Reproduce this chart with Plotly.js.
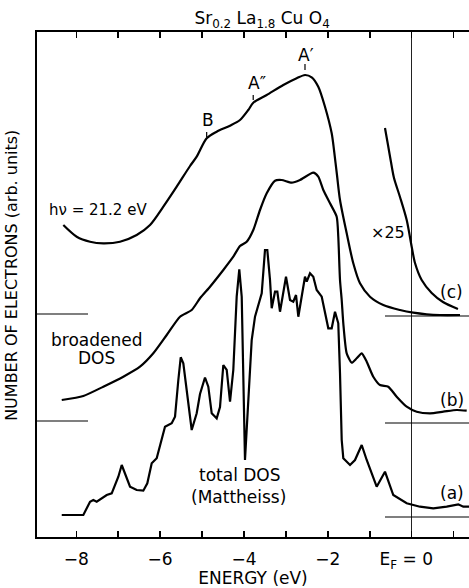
<!DOCTYPE html>
<html>
<head>
<meta charset="utf-8">
<script src="https://cdn.plot.ly/plotly-3.0.1.min.js"></script>
<style>html,body{margin:0;padding:0;background:#fff;}#chart{width:469px;height:588px;}</style>
</head>
<body>
<div id="chart"></div>
<script>
// ---- data (energy in eV, counts in arbitrary units above each curve's baseline) ----
const energyC = [-8.309,-7.990,-7.672,-7.355,-6.957,-6.559,-6.241,-5.924,-5.605,-5.287,-5.128,-4.889,-4.651,-4.333,-4.095,-3.897,-3.778,-3.458,-3.062,-2.743,-2.545,-2.385,-2.228,-2.068,-1.908,-1.853,-1.782,-1.710,-1.550,-1.393,-1.233,-0.995,-0.677,-0.279,0.038,0.358,0.675,1.152];
const countsC = [90,78.3,73.3,71.7,73.3,80,90,108.3,128.3,149,158.3,176.7,183.3,189.3,195,205,212.3,220,230,236.7,240,237.7,228.3,208.3,181.7,165,140,115,81.7,51.7,31.7,18.3,10,5,2.3,0.7,0,0];

const energyC25 = [-0.637,-0.565,-0.494,-0.422,-0.279,-0.119,0,0.079,0.238,0.477,0.746,1.104];
const countsC25 = [187,170,153,137,118,95,68.3,52,35,22,13,6];

const energyB = [-8.347,-7.832,-7.355,-6.878,-6.480,-6.163,-5.843,-5.526,-5.247,-5.049,-4.810,-4.493,-4.255,-4.095,-3.935,-3.778,-3.618,-3.458,-3.260,-3.100,-2.862,-2.664,-2.347,-2.228,-2.108,-1.948,-1.789,-1.751,-1.710,-1.669,-1.631,-1.550,-1.431,-1.312,-1.192,-1.073,-0.916,-0.756,-0.558,-0.358,-0.119,0.119,0.436,0.754,1.073,1.312];
const countsB = [22,26,35.3,45.3,55.3,68.7,87,105.3,112,123.7,135.3,152,165.3,176,180.3,192,212,228.7,241.3,242,239.3,242,249.3,245.3,232,218.7,205.3,185.3,142,122,98.7,68.7,59.3,63.7,68.7,60.3,45.3,37,35.3,25.3,15.3,10.3,8.7,10.3,12,11.3];

const energyA = [-8.347,-7.832,-7.672,-7.594,-7.513,-7.274,-7.155,-6.997,-6.916,-6.838,-6.718,-6.559,-6.401,-6.306,-6.201,-6.082,-6.003,-5.884,-5.724,-5.645,-5.566,-5.509,-5.447,-5.366,-5.247,-5.128,-5.049,-4.930,-4.851,-4.770,-4.651,-4.572,-4.493,-4.412,-4.333,-4.255,-4.174,-4.112,-4.054,-3.976,-3.897,-3.816,-3.737,-3.577,-3.499,-3.444,-3.379,-3.339,-3.260,-3.205,-3.141,-2.998,-2.902,-2.824,-2.759,-2.704,-2.545,-2.504,-2.425,-2.347,-2.266,-2.146,-1.989,-1.908,-1.829,-1.751,-1.710,-1.669,-1.631,-1.471,-1.352,-1.192,-1.073,-0.835,-0.637,-0.439,-0.119,0.198,0.515,0.835,1.111,1.231,1.367];
const countsA = [2,2,15.3,17,15.3,22,23.7,40.3,52,43.7,30.3,27,26.3,33.7,53.7,58.7,70.3,90.3,93.7,100.3,137,159.7,153.7,127,87,103.7,123,139.5,130.3,103.7,98.7,110,152,147,115.3,147,220.3,247.7,220.3,57,120.3,177,200.3,223.7,267,267,237,208.7,225.3,225.3,205.3,240.3,217,215.3,222,200.3,240.3,235.3,243.7,240.3,227,220.3,188.7,188.7,205.3,193.7,143.7,77,58.7,52,57,72,57,30.3,45.3,22,13.7,10.3,8.7,10.3,12.7,10.3,10.3];

const majorTicks = [-8,-6,-4,-2,0];
const majorLabels = ['\u22128','\u22126','\u22124','\u22122','E<sub>F</sub> = 0\u00a0\u00a0'];
const minorTicks = [-7,-5,-3,-1,1];

// vertical offsets of the three spectra (layout)
const OFF_C = 222, OFF_B = 115, OFF_A = 20;
const shift = (arr, off) => arr.map(v => v + off);

const lineStyle = {color:'#000', width:2.2};
const traces = [
  {x: energyC, y: shift(countsC, OFF_C), type:'scatter', mode:'lines', line:Object.assign({shape:'spline', smoothing:0.8}, lineStyle), name:'(c) hν = 21.2 eV', showlegend:false},
  {x: energyC25, y: shift(countsC25, OFF_C), type:'scatter', mode:'lines', line:Object.assign({shape:'spline', smoothing:0.8}, lineStyle), name:'(c) ×25', showlegend:false},
  {x: energyB, y: shift(countsB, OFF_B), type:'scatter', mode:'lines', line:Object.assign({shape:'spline', smoothing:0.6}, lineStyle), name:'(b) broadened DOS', showlegend:false},
  {x: energyA, y: shift(countsA, OFF_A), type:'scatter', mode:'lines', line:lineStyle, name:'(a) total DOS', showlegend:false}
];

const XL = -8.937, XR = 1.367;
const thin = {color:'#000', width:1.2};
const shapes = [
  // baselines
  {type:'line', xref:'x', yref:'y', x0:XL, x1:-7.72, y0:OFF_C+1, y1:OFF_C+1, line:thin},
  {type:'line', xref:'x', yref:'y', x0:XL, x1:-7.72, y0:OFF_B+1, y1:OFF_B+1, line:thin},
  {type:'line', xref:'x', yref:'y', x0:-0.637, x1:XR, y0:OFF_C-1, y1:OFF_C-1, line:thin},
  {type:'line', xref:'x', yref:'y', x0:-0.637, x1:XR, y0:OFF_B-1, y1:OFF_B-1, line:thin},
  {type:'line', xref:'x', yref:'y', x0:-0.637, x1:XR, y0:OFF_A, y1:OFF_A, line:thin},
  // feature markers
  {type:'line', xref:'x', yref:'y', x0:-4.89, x1:-4.89, y0:400, y1:405, line:thin},
  {type:'line', xref:'x', yref:'y', x0:-3.78, x1:-3.78, y0:437, y1:442, line:thin},
  {type:'line', xref:'x', yref:'y', x0:-2.545, x1:-2.545, y0:467, y1:473, line:thin}
];

const F = {family:'DejaVu Sans, sans-serif', size:16, color:'#000'};
const F17 = Object.assign({}, F, {size:17});
const ann = (text, x, y, extra) => Object.assign({text, x, y, xref:'x', yref:'y', showarrow:false, font:F, xanchor:'center', yanchor:'middle'}, extra||{});
const annotations = [
  ann('hν = 21.2 eV', -7.48, 327, {font:Object.assign({}, F, {size:15})}),
  ann('B', -4.85, 417, {font:F17}),
  ann('A″', -3.70, 454, {font:F17}),
  ann('A′', -2.53, 482, {font:F17}),
  ann('×25', -0.556, 305),
  ann('(c)', 0.954, 245, {font:F17}),
  ann('(b)', 0.954, 137, {font:F17}),
  ann('(a)', 0.954, 44, {font:F17}),
  ann('broadened', -7.51, 197, {font:F17}),
  ann('DOS', -7.51, 179, {font:F17}),
  ann('total DOS', -4.095, 62, {font:F17}),
  ann('(Mattheiss)', -4.135, 40, {font:F17}),
  {text:'NUMBER OF ELECTRONS (arb. units)', textangle:-90, xref:'paper', yref:'paper', x:-0.058, y:0.519, xanchor:'center', yanchor:'middle', showarrow:false, font:F}
];

const layout = {
  width:469, height:588,
  margin:{l:37, r:0, t:32, b:51},
  paper_bgcolor:'#fff', plot_bgcolor:'#fff',
  font:F,
  showlegend:false,
  title:{text:'Sr<sub>0.2</sub> La<sub>1.8</sub> Cu O<sub>4</sub>', x:0.521, xanchor:'center', y:0.969, yanchor:'middle', xref:'paper', yref:'container', font:F17},
  xaxis:{
    range:[XL, XR], showgrid:false,
    zeroline:true, zerolinecolor:'#222', zerolinewidth:1,
    showline:true, linecolor:'#000', linewidth:2, mirror:'ticks',
    ticks:'inside', ticklen:6, tickwidth:1.5, tickcolor:'#000',
    tickmode:'array', tickvals:majorTicks, ticktext:majorLabels,
    ticklabelstandoff:6,
    minor:{tickmode:'array', tickvals:minorTicks, ticks:'inside', ticklen:6, tickwidth:1.5, tickcolor:'#000', showgrid:false},
    tickfont:F17,
    title:{text:'ENERGY (eV)', font:F17, standoff:0}
  },
  yaxis:{
    range:[0, 505], showgrid:false, zeroline:false,
    showline:true, linecolor:'#000', linewidth:2, mirror:false,
    ticks:'', showticklabels:false
  },
  shapes, annotations
};

Plotly.newPlot('chart', traces, layout, {displayModeBar:false, staticPlot:true});
</script>
</body>
</html>
